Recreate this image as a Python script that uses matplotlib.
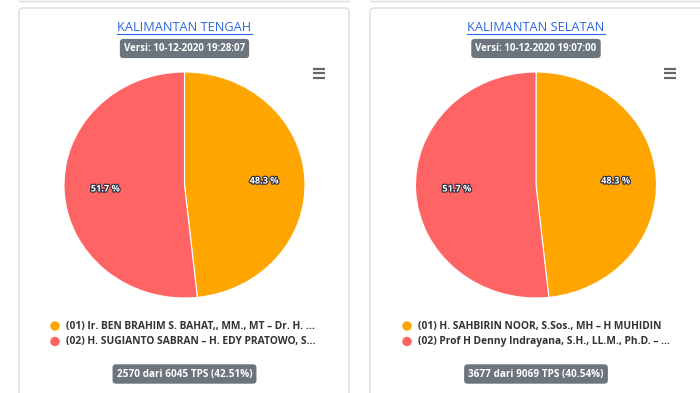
import matplotlib
matplotlib.use("Agg")
import matplotlib.pyplot as plt
from matplotlib.patches import FancyBboxPatch
import matplotlib.patheffects as pe

# ---------------- data ----------------
regions = ["KALIMANTAN TENGAH", "KALIMANTAN SELATAN"]
versions = ["Versi: 10-12-2020 19:28:07", "Versi: 10-12-2020 19:07:00"]
shares_kalteng = [48.3, 51.7]
shares_kalsel = [48.3, 51.7]
candidates_kalteng = ["(01) Ir. BEN BRAHIM S. BAHAT,, MM., MT \u2013 Dr. H. ...",
                      "(02) H. SUGIANTO SABRAN \u2013 H. EDY PRATOWO, S..."]
candidates_kalsel = ["(01) H. SAHBIRIN NOOR, S.Sos., MH \u2013 H MUHIDIN",
                     "(02) Prof H Denny Indrayana, S.H., LL.M., Ph.D. \u2013 ..."]
tps_done = [2570, 3677]
tps_total = [6045, 9069]
tps_pct = [42.51, 40.54]
slice_colors = ["#FFA500", "#FF6464"]

W, H = 700, 393
plt.rcParams['font.family'] = ['Open Sans', 'DejaVu Sans']
fig = plt.figure(figsize=(W / 100, H / 100), dpi=100)
fig.patch.set_facecolor("white")
bg = fig.add_axes([0, 0, 1, 1])
bg.set_xlim(0, W)
bg.set_ylim(H, 0)
bg.axis("off")

# card borders
card_left = [19, 370]
card_right = [349, 720]
for cl, cr in zip(card_left, card_right):
    bg.add_patch(FancyBboxPatch((cl, 8), cr - cl, 420,
                                boxstyle="round,pad=0,rounding_size=4",
                                fc="white", ec="#dcdcdc", lw=1.0))
    bg.plot([cl, cr], [0.5, 0.5], color="#dcdcdc", lw=1.0)

centers_x = [184.5, 536]
shares = [shares_kalteng, shares_kalsel]
cands = [candidates_kalteng, candidates_kalsel]
menu_x = [318.5, 669.5]

fig.canvas.draw()
renderer = fig.canvas.get_renderer()

for i in range(2):
    cx = centers_x[i]
    # title
    t = bg.text(cx, 27.5, regions[i], ha="center", va="center",
                fontsize=9.2, color="#2a67e8")
    bb = t.get_window_extent(renderer=renderer)
    bg.plot([bb.x0, bb.x1], [34, 34], color="#2a67e8", lw=0.8)
    # version badge
    bg.text(cx, 48.5, versions[i], ha="center", va="center", fontsize=7.0,
            fontweight="bold", color="white",
            bbox=dict(boxstyle="round,pad=0.42,rounding_size=0.35",
                      fc="#6c757d", ec="none"))
    # hamburger menu
    mx = menu_x[i]
    for dy in (68.5, 73, 77.5):
        bg.plot([mx - 6, mx + 6], [dy, dy], color="#666666", lw=1.6,
                solid_capstyle="butt")

    # pie
    left, right, top, bottom = cx - 120.5, cx + 120.5, 72, 298
    ax = fig.add_axes([left / W, 1 - bottom / H, (right - left) / W,
                       (bottom - top) / H])
    wedges, texts, autotexts = ax.pie(
        shares[i], colors=slice_colors, startangle=90, counterclock=False,
        radius=1, autopct=lambda p: f"{p:.1f} %", pctdistance=0.66,
        wedgeprops=dict(edgecolor="white", linewidth=0.8),
        textprops=dict(color="white", fontsize=6.6, fontweight="bold"))
    for a in autotexts:
        a.set_path_effects([pe.withStroke(linewidth=1.8, foreground="#333344")])
    ax.set_aspect("auto")
    ax.set_xlim(-1, 1)
    ax.set_ylim(-1, 1)
    ax.axis("off")

    # legend
    lx = [55, 407][i]
    for j, (name, col) in enumerate(zip(cands[i], slice_colors)):
        y = 326 + j * 15.5
        bg.scatter([lx], [y], s=46, color=col, edgecolors="none")
        bg.text(lx + 11.5, y, name, ha="left", va="center", fontsize=7.4,
                fontweight="bold", color="#333333")

    # TPS badge
    bg.text(cx, 374, f"{tps_done[i]} dari {tps_total[i]} TPS ({tps_pct[i]:.2f}%)",
            ha="center", va="center", fontsize=7.2, fontweight="bold",
            color="white",
            bbox=dict(boxstyle="round,pad=0.42,rounding_size=0.35",
                      fc="#6c757d", ec="none"))

fig.savefig("out.png", dpi=100, facecolor="white")
